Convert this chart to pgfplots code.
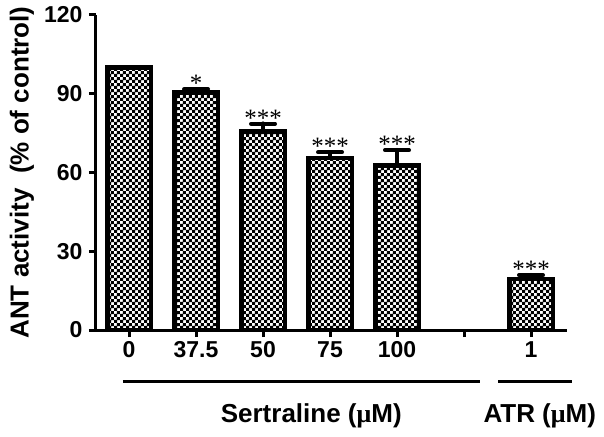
\documentclass[border=0pt]{standalone}
\usepackage{pgfplots}
\pgfplotsset{compat=1.18}
\usepackage{pgfplotstable}
\usepackage{fontspec}
\setmainfont{Liberation Sans}
\newfontfamily\seriffont{Liberation Serif}
\usetikzlibrary{patterns}
\pgfdeclarepatternformonly{fchecker}{\pgfpointorigin}{\pgfqpoint{6.4bp}{6.4bp}}{\pgfqpoint{6.4bp}{6.4bp}}{%
  \pgfpathrectangle{\pgfpointorigin}{\pgfqpoint{3.4bp}{3.4bp}}%
  \pgfpathrectangle{\pgfqpoint{3.2bp}{3.2bp}}{\pgfqpoint{3.4bp}{3.4bp}}%
  \pgfusepath{fill}}

\pgfplotstableread{
x y err
0 100 0
1 90.5 1.2
2 75.6 3.0
3 65.5 2.2
4 62.7 5.8
6 19.5 1.4
}\bardata

\pgfplotstableread{
x y lab
1 91.7 {*}
2 78.6 {***}
3 67.7 {***}
4 68.5 {***}
6 20.9 {***}
}\stardata

\begin{document}
\begin{tikzpicture}
\begin{axis}[
  name=ax, scale only axis, width=471bp, height=315bp,
  xmin=-0.493, xmax=6.537, ymin=0, ymax=120,
  axis x line*=bottom, axis y line*=left,
  axis line style={line width=3bp, black},
  xtick={0,1,2,3,4,5,6}, xticklabels={0,37.5,50,75,100,{},1},
  ytick={0,30,60,90,120},
  tick align=outside, major tick length=7bp,
  every tick/.style={black, line width=3bp},
  tick label style={font=\fontsize{23bp}{26bp}\selectfont\bfseries},
  yticklabel style={xshift=-3bp},
  xticklabel style={yshift=-1bp},
  /pgf/number format/assume math mode=true,
  ylabel={ANT activity\ \ (\% of control)},
  ylabel style={font=\fontsize{26bp}{30bp}\selectfont\bfseries,
    at={([xshift=-74bp]axis description cs:0,0.5)}, anchor=center},
  clip=false,
]
\addplot[ybar, bar width=43.5bp, bar shift=0pt, draw=black, line width=4.5bp,
  pattern=fchecker, pattern color=black,
  error bars/.cd, y dir=plus, y explicit,
  error bar style={line width=4bp, black},
  error mark options={rotate=90, line width=4bp, mark size=12bp, black, line cap=round}]
  table[x=x, y=y, y error=err]{\bardata};
\addplot[only marks, mark=*, mark options={draw=none, fill=none},
  nodes near coords, point meta=explicit symbolic,
  every node near coord/.append style={font=\seriffont\fontsize{25bp}{25bp}\selectfont, anchor=base, yshift=-2.5bp}]
  table[x=x, y=y, meta=lab]{\stardata};
\draw[line width=3bp] (axis cs:-0.09,-19.7) -- (axis cs:5.24,-19.7);
\draw[line width=3bp] (axis cs:5.51,-19.7) -- (axis cs:6.61,-19.7);
\node[font=\fontsize{26bp}{30bp}\selectfont\bfseries, anchor=base] at (axis cs:2.72,-35.4) {Sertraline ({\seriffont μ}M)};
\node[font=\fontsize{26bp}{30bp}\selectfont\bfseries, anchor=base] at (axis cs:6.13,-35.4) {ATR ({\seriffont μ}M)};
\end{axis}
\pgfresetboundingbox
\path[use as bounding box] ([shift={(-96bp,-107bp)}]ax.south west) rectangle ++(604bp,437bp);
\end{tikzpicture}
\end{document}
